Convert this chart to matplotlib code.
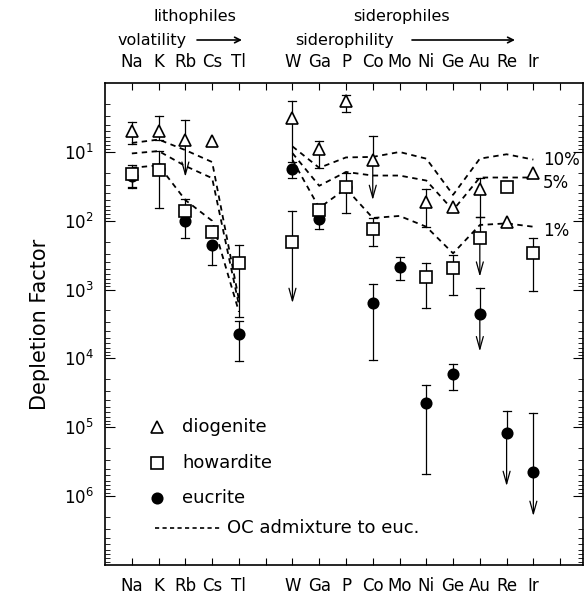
import numpy as np
import matplotlib.pyplot as plt
from matplotlib.ticker import LogLocator, LogFormatterMathtext, NullFormatter

nan = np.nan

# elements, lithophiles (left group) then siderophiles (right group)
elements = ['Na', 'K', 'Rb', 'Cs', 'Tl', 'W', 'Ga', 'P', 'Co', 'Mo', 'Ni', 'Ge', 'Au', 'Re', 'Ir']
n_litho = 5

# diogenite (open triangles): value, upper end of bar (smaller), lower end (larger), arrow flag
dio_val = [4.9, 5.0, 6.8, 7.0, nan, 3.2, 9.2, 1.8, 13, nan, 53, 63, 35, 103, 20]
dio_lo = [3.7, 3.0, 3.4, nan, nan, 1.8, 6.9, 1.5, 5.9, nan, 34, nan, 23.5, nan, nan]
dio_hi = [7.6, 6.6, 23, nan, nan, 14, 17, 2.6, 50, nan, 122, nan, 87, nan, nan]
dio_lim = [0, 0, 1, 0, 0, 0, 0, 0, 1, 0, 0, 0, 0, 0, 0]

# howardite (open squares)
how_val = [21, 18.4, 72, 144, 406, 200, 70, 32, 133, nan, 660, 490, 180, 32, 297]
how_lo = [15.6, 9.7, 49, 122, 225, 72, nan, 20.5, 92, nan, 414, 314, 87, nan, 180]
how_hi = [32, 66, nan, nan, 2500, 1570, nan, 76, 233, nan, 1860, 1190, 650, nan, 1030]
how_lim = [0, 0, 0, 0, 0, 1, 0, 0, 0, 0, 0, 0, 1, 0, 0]

# eucrite (filled circles)
euc_val = [22, 17.4, 100, 225, 4400, 17.4, 95, 32, 1540, 470, 45000, 17000, 2250, 120000, 450000]
euc_lo = [nan, nan, nan, nan, 2900, nan, nan, nan, 830, 340, 24000, 12000, 955, 59000, 63000]
euc_hi = [33, nan, 180, 438, 11000, 24, 133, nan, 10700, 720, 485000, 29000, 7900, 716000, 1950000]
euc_lim = [0, 0, 0, 0, 0, 0, 0, 0, 0, 0, 0, 0, 1, 1, 1]

# OC admixture to eucrite
oc_labels = ['10%', '5%', '1%']
oc_10 = [7.4, 6.6, 9.4, 14, 1400, 8.3, 17, 12, 11.8, 10, 12.5, 42, 12.5, 10.8, 12.9]
oc_5 = [10.5, 9.7, 16, 24, 1670, 10.4, 31, 19.5, 22, 22, 26, 70, 23.5, 23.5, 23.5]
oc_1 = [17, 15.6, 50, 100, 2100, 13, 65, 34, 91, 85, 122, 297, 115, 109, 122]

# x positions: one empty slot between the two groups
pos = np.r_[np.arange(1, n_litho + 1), np.arange(n_litho + 2, n_litho + 2 + len(elements) - n_litho)]

fig = plt.figure(figsize=(5.87, 5.94), dpi=100)
ax = fig.add_axes([0.179, 0.049, 0.814, 0.811])
ax.set_yscale('log')
ax.set_ylim(1e7, 1)
ax.set_xlim(0, 17.85)

LW = 0.9
CAP = 0.15


def draw_series(vals, lo, hi, lim, marker, ms, face):
    for x, v, l, h, a in zip(pos, vals, lo, hi, lim):
        if np.isnan(v):
            continue
        if not np.isnan(l):
            ax.plot([x, x], [l, v], color='k', lw=LW, zorder=2)
            ax.plot([x - CAP, x + CAP], [l, l], color='k', lw=LW, zorder=2)
        if not np.isnan(h):
            if a:
                ax.annotate('', xy=(x, h), xytext=(x, v),
                            arrowprops=dict(arrowstyle='->,head_length=0.9,head_width=0.25',
                                            lw=LW, color='k', shrinkA=0, shrinkB=0),
                            zorder=2)
            else:
                ax.plot([x, x], [v, h], color='k', lw=LW, zorder=2)
                ax.plot([x - CAP, x + CAP], [h, h], color='k', lw=LW, zorder=2)
        ax.plot(x, v, marker=marker, ms=ms, mfc=face, mec='k', mew=1.2, ls='none', zorder=4)


# dashed OC lines, broken between the two groups
for vals in (oc_10, oc_5, oc_1):
    ax.plot(pos[:n_litho], vals[:n_litho], color='k', lw=1.3, ls=(0, (3, 2.5)), zorder=1)
    ax.plot(pos[n_litho:], vals[n_litho:], color='k', lw=1.3, ls=(0, (3, 2.5)), zorder=1)
for lab, vals, f in zip(oc_labels, (oc_10, oc_5, oc_1), (1.0, 1.2, 1.15)):
    ax.text(16.35, vals[-1] * f, lab, fontsize=12, va='center', ha='left')

draw_series(euc_val, euc_lo, euc_hi, euc_lim, 'o', 7.5, 'k')
draw_series(how_val, how_lo, how_hi, how_lim, 's', 9, 'white')
draw_series(dio_val, dio_lo, dio_hi, dio_lim, '^', 9, 'white')

# ticks
ticklabels = []
for p in range(1, 18):
    ticklabels.append(elements[list(pos).index(p)] if p in pos else '')
ax.set_xticks(range(1, 18))
ax.set_xticklabels(ticklabels)
ax.tick_params(axis='x', which='both', direction='in', top=True, bottom=True,
               labeltop=True, labelsize=12, length=5, pad=9)
ax.yaxis.set_major_locator(LogLocator(base=10, numticks=10))
ax.yaxis.set_minor_locator(LogLocator(base=10, subs=np.arange(2, 10), numticks=10))
ax.yaxis.set_major_formatter(LogFormatterMathtext())
ax.yaxis.set_minor_formatter(NullFormatter())
ax.set_yticks([1e1, 1e2, 1e3, 1e4, 1e5, 1e6])
ax.tick_params(axis='y', which='major', direction='in', left=True, right=True,
               labelsize=12, length=7, pad=8)
ax.tick_params(axis='y', which='minor', direction='in', left=True, right=True, length=3.5)
for s in ax.spines.values():
    s.set_linewidth(1.2)
ax.set_ylabel('Depletion Factor', fontsize=15, labelpad=10)

# legend drawn by hand (dashed entry is longer than the marker entries)
leg_marks = [('^', 9, 'white', 'diogenite', 0.286),
             ('s', 9, 'white', 'howardite', 0.212),
             ('o', 7.5, 'k', 'eucrite', 0.139)]
for m, ms, fc, lab, yy in leg_marks:
    ax.plot(0.109, yy, marker=m, ms=ms, mfc=fc, mec='k', mew=1.2, transform=ax.transAxes)
    ax.text(0.161, yy, lab, fontsize=13, va='center', transform=ax.transAxes)
ax.plot([0.105, 0.245], [0.077, 0.077], color='k', lw=1.2, ls=(0, (2.5, 2)), transform=ax.transAxes)
ax.text(0.255, 0.077, 'OC admixture to euc.', fontsize=13, va='center', transform=ax.transAxes)

# group headers above the plot
fig.text(195 / 587, 1 - 16 / 594, 'lithophiles', fontsize=11.5, ha='center', va='center')
fig.text(118 / 587, 1 - 40 / 594, 'volatility', fontsize=11.5, ha='left', va='center')
ax.annotate('', xy=(242 / 587, 1 - 40 / 594), xytext=(197 / 587, 1 - 40 / 594),
            xycoords='figure fraction', textcoords='figure fraction',
            arrowprops=dict(arrowstyle='->', lw=1.2, color='k', shrinkA=0, shrinkB=0))
fig.text(402 / 587, 1 - 16 / 594, 'siderophiles', fontsize=11.5, ha='center', va='center')
fig.text(295 / 587, 1 - 40 / 594, 'siderophility', fontsize=11.5, ha='left', va='center')
ax.annotate('', xy=(515 / 587, 1 - 40 / 594), xytext=(412 / 587, 1 - 40 / 594),
            xycoords='figure fraction', textcoords='figure fraction',
            arrowprops=dict(arrowstyle='->', lw=1.2, color='k', shrinkA=0, shrinkB=0))

fig.savefig('out.png', dpi=100)
